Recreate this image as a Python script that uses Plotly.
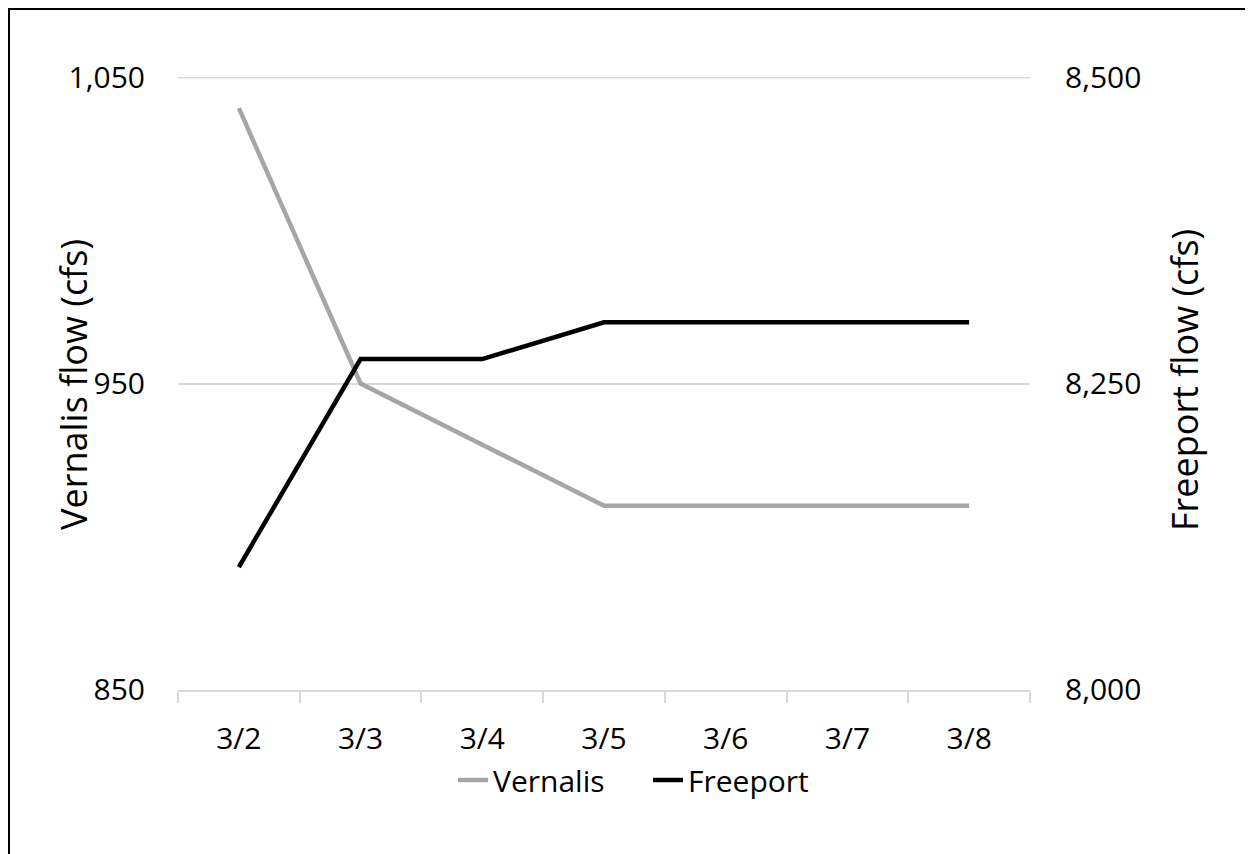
import plotly.graph_objects as go

dates = ["3/2", "3/3", "3/4", "3/5", "3/6", "3/7", "3/8"]
vernalis = [1040, 950, 930, 910, 910, 910, 910]
freeport = [8100, 8270, 8270, 8300, 8300, 8300, 8300]

OFF = 8  # default body margin of the html page
W, H = 1253 - OFF, 854 - OFF
L, R, T, B = 178 - OFF, 1030 - OFF, 77 - OFF, 690 - OFF
pw, ph = R - L, B - T


def px(x):
    return (x - OFF - L) / pw


def py(y):
    return (B - (y - OFF)) / ph


font = "Open Sans, Noto Sans, sans-serif"
FS = 30
GRID = "#d9d9d9"

fig = go.Figure()
fig.add_trace(go.Scatter(x=dates, y=vernalis, name="Vernalis", mode="lines",
                         line=dict(color="#a8a5a5", width=4.5), yaxis="y"))
fig.add_trace(go.Scatter(x=dates, y=freeport, name="Freeport", mode="lines",
                         line=dict(color="#000000", width=4.5), yaxis="y2"))

fig.update_layout(
    width=W, height=H,
    margin=dict(l=L, r=W - R, t=T, b=H - B, autoexpand=False),
    paper_bgcolor="white", plot_bgcolor="white",
    font=dict(family=font, size=FS, color="#000000"),
    showlegend=True,
    legend=dict(orientation="h", x=px(648), xanchor="center", y=py(780), yanchor="middle",
                font=dict(size=FS), entrywidth=150, entrywidthmode="pixels",
                tracegroupgap=0),
    xaxis=dict(type="category", tickson="boundaries", ticks="outside", ticklen=11,
               tickcolor=GRID, tickwidth=2, showline=True, linecolor=GRID,
               linewidth=2, showgrid=False, tickfont=dict(size=FS),
               ticklabelstandoff=21, range=[-0.5, 6.5], zeroline=False),
    yaxis=dict(range=[849.8, 1050.2], tick0=850, dtick=100, tickformat=",", showgrid=True,
               gridcolor=GRID, gridwidth=2, zeroline=False,
               ticks="", ticklabelstandoff=32, tickfont=dict(size=FS)),
    yaxis2=dict(range=[7999.5, 8500.5], tick0=8000, dtick=250, tickformat=",",
                overlaying="y", side="right", showgrid=False, zeroline=False, ticks="",
                ticklabelstandoff=34, tickfont=dict(size=FS)),
    annotations=[
        dict(text="Vernalis flow (cfs)", xref="paper", yref="paper", x=px(73), y=py(385),
             xanchor="center", yanchor="middle", textangle=-90, showarrow=False,
             font=dict(size=36)),
        dict(text="Freeport flow (cfs)", xref="paper", yref="paper", x=px(1184), y=py(380),
             xanchor="center", yanchor="middle", textangle=-90, showarrow=False,
             font=dict(size=36)),
    ],
    shapes=[
        dict(type="rect", xref="paper", yref="paper",
             x0=px(9), x1=px(1270), y0=py(900), y1=py(9),
             line=dict(color="#000000", width=2), fillcolor="rgba(0,0,0,0)",
             layer="below"),
        dict(type="line", xref="paper", yref="y", x0=0, x1=1, y0=1050, y1=1050,
             line=dict(color=GRID, width=2), layer="below"),
    ],
)

fig.write_html("out.html")
